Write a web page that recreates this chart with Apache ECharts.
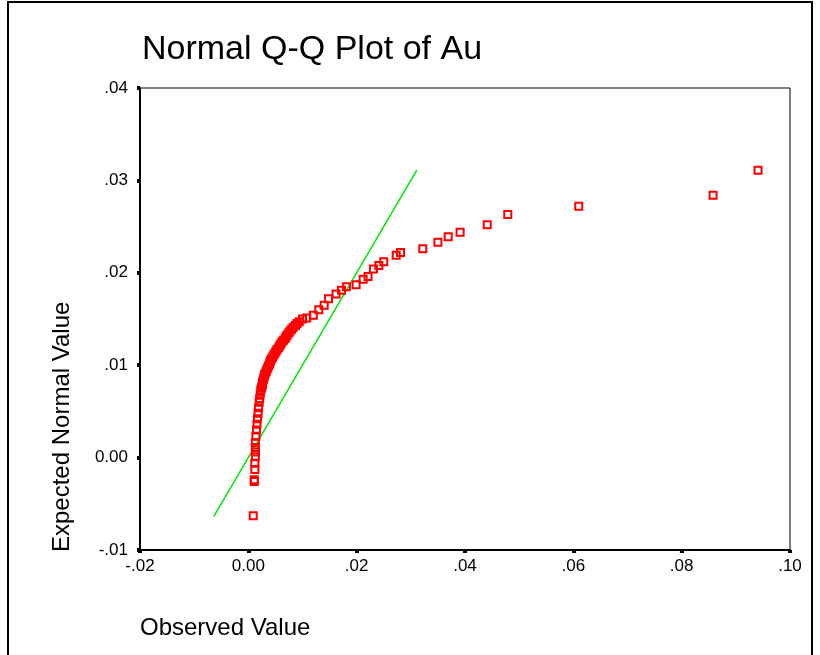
<!DOCTYPE html>
<html>
<head>
<meta charset="utf-8">
<script src="https://cdn.jsdelivr.net/npm/echarts@6/dist/echarts.min.js"></script>
<style>
html,body{margin:0;padding:0;background:#fff;}
#chart{width:820px;height:655px;}
</style>
</head>
<body>
<div id="chart"></div>
<script>
const observedValues = [
  0.0009, 0.0011, 0.0011, 0.0012, 0.0012, 0.0013, 0.0013, 0.0013, 0.0013, 0.0014,
  0.0015, 0.0016, 0.0017, 0.0018, 0.0019, 0.0020, 0.0021, 0.0022,
  0.0023, 0.0024, 0.0025, 0.0026, 0.0026, 0.0027, 0.0028, 0.0029, 0.0030, 0.0031,
  0.0033, 0.0034, 0.0036, 0.0037, 0.0039, 0.0040, 0.0041, 0.0043, 0.0045, 0.0047,
  0.0049, 0.0051, 0.0053, 0.0056, 0.0058, 0.0060, 0.0062, 0.0065, 0.0068, 0.0070,
  0.0072, 0.0075, 0.0077, 0.0080, 0.0083, 0.0087, 0.0090, 0.0094,
  0.0100, 0.0108, 0.0120, 0.0130, 0.0140, 0.0148, 0.0162, 0.0172, 0.0181, 0.0199,
  0.0212, 0.0221, 0.0231, 0.0241, 0.0250, 0.0273, 0.0281, 0.0322, 0.0350, 0.0369,
  0.0391, 0.0441, 0.0479, 0.0610, 0.0858, 0.0941
];
const expectedValues = [
  -0.0063, -0.0026, -0.0024, -0.0013, -0.0006, 0.0001, 0.0006, 0.0011, 0.0016, 0.0023,
  0.0030, 0.0036, 0.0042, 0.0048, 0.0054, 0.0060, 0.0064, 0.0069,
  0.0073, 0.0075, 0.0077, 0.0079, 0.0081, 0.0083, 0.0085, 0.0087, 0.0089, 0.0091,
  0.0093, 0.0095, 0.0097, 0.0099, 0.0101, 0.0103, 0.0105, 0.0107, 0.0109, 0.0111,
  0.0113, 0.0115, 0.0117, 0.0119, 0.0121, 0.0123, 0.0125, 0.0127, 0.0129, 0.0131,
  0.0133, 0.0135, 0.0137, 0.0139, 0.0141, 0.0143, 0.0145, 0.0147,
  0.0150, 0.0151, 0.0154, 0.0160, 0.0165, 0.0172, 0.0177, 0.0181, 0.0185, 0.0187,
  0.0193, 0.0196, 0.0204, 0.0208, 0.0212, 0.0219, 0.0222, 0.0226, 0.0233, 0.0239,
  0.0244, 0.0252, 0.0263, 0.0272, 0.0284, 0.0311
];
// Reference line (y = x) end points
const refLineX = [-0.0064, 0.0311];
const refLineY = [-0.0064, 0.0311];

const xTickLabels = ['-.02', '0.00', '.02', '.04', '.06', '.08', '.10'];
const yTickLabels = ['-.01', '0.00', '.01', '.02', '.03', '.04'];
const X_MIN = -0.02, X_MAX = 0.10, X_STEP = 0.02;
const Y_MIN = -0.01, Y_MAX = 0.04, Y_STEP = 0.01;

const titleText = 'Normal Q-Q Plot of Au';
const xName = 'Observed Value';
const yName = 'Expected Normal Value';

const FONT = 'Liberation Sans, Arial, sans-serif';

const chart = echarts.init(document.getElementById('chart'), null, {renderer: 'canvas'});
const scatterData = observedValues.map((v, i) => [v, expectedValues[i]]);
const lineData = refLineX.map((v, i) => [v, refLineY[i]]);

chart.setOption({
  animation: false,
  backgroundColor: '#ffffff',
  title: {
    text: titleText,
    left: 137,
    top: 28,
    textStyle: {fontFamily: FONT, fontSize: 34, fontWeight: 'normal', color: '#000'}
  },
  grid: {
    left: 140, right: 30, top: 88, bottom: 105,
    show: true, borderColor: '#000', borderWidth: 1, backgroundColor: 'transparent'
  },
  xAxis: {
    type: 'value', min: X_MIN, max: X_MAX, interval: X_STEP,
    axisLine: {show: true, onZero: false, lineStyle: {color: '#000', width: 2}},
    axisTick: {show: true, length: 3, lineStyle: {color: '#000', width: 4}},
    splitLine: {show: false},
    axisLabel: {
      margin: 8, color: '#000', fontFamily: FONT, fontSize: 17,
      formatter: v => xTickLabels[Math.round((v - X_MIN) / X_STEP)]
    }
  },
  yAxis: {
    type: 'value', min: Y_MIN, max: Y_MAX, interval: Y_STEP,
    axisLine: {show: true, onZero: false, lineStyle: {color: '#000', width: 2}},
    axisTick: {show: true, length: 3, lineStyle: {color: '#000', width: 4}},
    splitLine: {show: false},
    axisLabel: {
      margin: 12, color: '#000', fontFamily: FONT, fontSize: 17,
      formatter: v => yTickLabels[Math.round((v - Y_MIN) / Y_STEP)]
    }
  },
  graphic: [
    {
      type: 'rect', silent: true, z: 100,
      shape: {x: 8, y: 2, width: 804, height: 700},
      style: {fill: 'none', stroke: '#000', lineWidth: 2}
    },
    {
      type: 'text', silent: true,
      x: 140, y: 628,
      style: {text: xName, font: '24px ' + FONT, fill: '#000', textAlign: 'left', textVerticalAlign: 'middle'}
    },
    {
      type: 'text', silent: true,
      x: 62, y: 552, rotation: Math.PI / 2,
      style: {text: yName, font: '24px ' + FONT, fill: '#000', textAlign: 'left', textVerticalAlign: 'middle'}
    }
  ],
  series: [
    {
      type: 'line',
      data: lineData,
      showSymbol: false,
      symbol: 'none',
      lineStyle: {color: '#00e600', width: 1.5},
      z: 2
    },
    {
      type: 'scatter',
      data: scatterData,
      symbol: 'rect',
      symbolSize: 7,
      itemStyle: {color: 'rgba(255,255,255,0)', borderColor: '#ff0000', borderWidth: 2, opacity: 1},
      z: 3
    }
  ]
});
</script>
</body>
</html>
